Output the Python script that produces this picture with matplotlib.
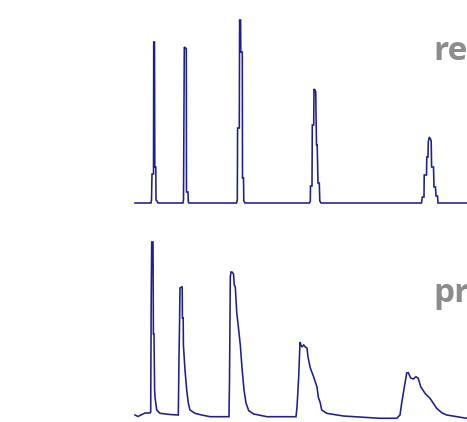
import matplotlib
matplotlib.use("Agg")
import matplotlib.pyplot as plt

# Reference trace (time in arbitrary units, signal in arbitrary units)
ref_time = [0, 16, 16.5, 17, 18.5, 18.7, 19.5, 19.8, 20.8, 21, 22, 23,
            48, 48.5, 49.3, 50.5, 51.3, 51.5, 53, 53.3, 54,
            101.5, 102.3, 102.6, 104.3, 104.6, 105.6, 105.8, 107.3, 107.5, 108.5, 108.8, 110,
            174.5, 175.3, 175.5, 177, 177.3, 178.7, 179, 180, 180.7, 181.5, 182.2, 183, 184.3, 184.8, 186,
            286.5, 287.3, 289, 289.2, 291.5, 291.8, 293, 293.3, 294.3, 295.5, 296.2, 296.6, 298.5, 299,
            300.5, 301, 302.5, 303, 332]
ref_signal = [0, 0, 3, 29, 29, 161, 161, 36, 36, 3, 2, 0,
              0, 3, 156, 155, 154, 11, 11, 1, 0,
              0, 3, 75, 75, 183, 183, 151, 151, 25, 25, 2, 0,
              0, 2, 17, 17, 78, 78, 114, 113, 111, 58, 58, 20, 20, 2, 0,
              0, 6, 6, 28, 28, 46, 46, 61, 66, 64, 62, 36, 36, 16,
              16, 7, 7, 0, 0]

# Predicted trace
pred_time = [0, 3, 10, 15, 15.7, 16.2, 16.7, 18, 18.4, 19, 19.6, 20, 21.7, 25, 35, 43.3,
             44, 44.6, 45, 46.5, 47.2, 47.4, 48.2, 48.4, 50, 51.7, 53.3, 55, 60, 66.7, 75, 94,
             94.5, 95.3, 96, 97, 98.5, 99.3, 100.3, 101.7, 103.7, 105.3, 107, 109, 111, 113.7, 118.7, 132, 161,
             162, 163.7, 165, 166, 167, 168.7, 170.3, 172, 173, 175.3, 178.7, 182, 183.3, 185.3, 186.7, 191.7,
             208.3, 245, 261.7, 265,
             266.7, 270, 271.7, 273.3, 275.7, 278.3, 281, 283.3, 285.7, 290, 295, 298.3, 301.7, 306.7, 311.7, 331.7]
pred_signal = [0, -1.5, 2, 2, 3, 115, 173, 173, 81, 81, 25, 18, 5, 1.7, 0.5, 0,
               58, 95, 127, 128, 128, 97, 97, 70, 45, 25, 12, 5, 1.7, 0, -1.7, -1.7,
               35, 138, 143, 143, 141, 130, 128, 103, 85, 70, 47, 25, 12, 4.3, 1, -1.7, -1.7,
               8, 38, 73, 70, 68, 70, 68, 67, 58, 47, 38, 28, 18, 12, 5, 1.7,
               -1, -3.3, -3.3, 0,
               12, 32, 42, 42.3, 37, 36, 38.3, 36.7, 28.3, 21.7, 16.7, 11.7, 6.7, 2.3, 0, -3.3]

labels = ["re", "pr"]

W, H = 467, 422
fig = plt.figure(figsize=(W / 100, H / 100), dpi=100)
fig.patch.set_facecolor("white")

line_color = "#1e1e8e"

# top panel: px rows 5..210
ax1 = fig.add_axes([0, (H - 210) / H, 1, 205 / H])
ax1.plot(ref_time, ref_signal, color=line_color, lw=1.15, solid_joinstyle="miter")
ax1.set_xlim(-135, 332)
ax1.set_ylim(-7, 198)
ax1.axis("off")

# bottom panel: px rows 225..422
ax2 = fig.add_axes([0, 0, 1, 197 / H])
ax2.plot(pred_time, pred_signal, color=line_color, lw=1.15, solid_joinstyle="miter")
ax2.set_xlim(-135, 332)
ax2.set_ylim(-7, 190)
ax2.axis("off")

fig.text(433 / W, 1 - 60 / H, labels[0], color="#8c8c8c", fontsize=24,
         fontweight="bold", family=["Open Sans", "DejaVu Sans"], va="baseline", ha="left")
fig.text(433 / W, 1 - 302 / H, labels[1], color="#8c8c8c", fontsize=24,
         fontweight="bold", family=["Open Sans", "DejaVu Sans"], va="baseline", ha="left")

fig.savefig("out.png", dpi=100, facecolor="white")
